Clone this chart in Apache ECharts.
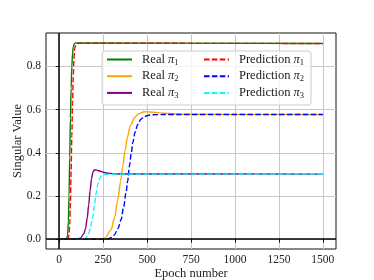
<!DOCTYPE html>
<html>
<head>
<meta charset="utf-8">
<script src="https://cdn.jsdelivr.net/npm/echarts@6/dist/echarts.min.js"></script>
<style>html,body{margin:0;padding:0;background:#fff}#c{width:374px;height:280px}</style>
</head>
<body>
<div id="c"></div>
<script>
// ---- data ----
const xTicks = [0, 250, 500, 750, 1000, 1250, 1500];
const yTicks = [0, 0.2, 0.4, 0.6, 0.8];

const real1X = [0, 42, 48, 52, 56, 60, 64, 68, 72, 76, 80, 86, 95, 120, 1500];
const real1Y = [0, 0, 0.02, 0.08, 0.2, 0.38, 0.56, 0.7, 0.8, 0.86, 0.89, 0.905, 0.909, 0.908, 0.906];

const real2X = [0, 220, 260, 295, 315, 333, 350, 361, 375, 389, 405, 427, 450, 484, 520, 600, 700, 1500];
const real2Y = [0, 0, 0.005, 0.043, 0.1, 0.182, 0.27, 0.336, 0.41, 0.476, 0.525, 0.561, 0.58, 0.59, 0.589, 0.583, 0.578, 0.577];

const real3X = [0, 100, 120, 140, 150, 160, 168, 176, 184, 192, 200, 210, 225, 250, 280, 320, 1500];
const real3Y = [0, 0, 0.004, 0.025, 0.05, 0.1, 0.16, 0.225, 0.28, 0.31, 0.32, 0.321, 0.317, 0.31, 0.305, 0.302, 0.301];

const pred1X = [0, 50, 56, 60, 64, 68, 72, 76, 80, 84, 88, 94, 104, 130, 1500];
const pred1Y = [0, 0, 0.02, 0.07, 0.17, 0.32, 0.48, 0.63, 0.75, 0.83, 0.88, 0.9, 0.906, 0.907, 0.906];

const pred2X = [0, 270, 300, 314, 335, 352, 366, 380, 390, 399, 410, 418, 432, 446, 465, 484, 510, 531, 600, 1500];
const pred2Y = [0, 0, 0.008, 0.02, 0.05, 0.09, 0.145, 0.213, 0.27, 0.336, 0.395, 0.445, 0.495, 0.53, 0.555, 0.568, 0.574, 0.576, 0.577, 0.577];

const pred3X = [0, 130, 150, 165, 178, 190, 200, 210, 220, 230, 240, 255, 280, 1500];
const pred3Y = [0, 0, 0.005, 0.02, 0.05, 0.1, 0.155, 0.21, 0.255, 0.28, 0.293, 0.299, 0.301, 0.301];

const seriesNames = ['Real π1', 'Real π2', 'Real π3', 'Prediction π1', 'Prediction π2', 'Prediction π3'];
// ---------------------------------------

const FONT = 'Liberation Serif';
const zip = (xs, ys) => xs.map((x, i) => [x, ys[i]]);

function mkSeries(name, xs, ys, color, dashed) {
  return {
    name, type: 'line', data: zip(xs, ys), showSymbol: false, symbol: 'none',
    smooth: 0.3, smoothMonotone: 'x', animation: false,
    lineStyle: { color, width: 1.4, type: dashed ? [5.5, 2.4] : 'solid' },
    itemStyle: { color }
  };
}

const series = [
  mkSeries(seriesNames[0], real1X, real1Y, '#008000', false),
  mkSeries(seriesNames[1], real2X, real2Y, '#FFA500', false),
  mkSeries(seriesNames[2], real3X, real3Y, '#800080', false),
  mkSeries(seriesNames[3], pred1X, pred1Y, '#FF0000', true),
  mkSeries(seriesNames[4], pred2X, pred2Y, '#0000FF', true),
  mkSeries(seriesNames[5], pred3X, pred3Y, '#00FFFF', true)
];
series[0].markLine = {
  silent: true, symbol: 'none', animation: false, label: { show: false },
  lineStyle: { color: '#000', width: 1.5, type: 'solid' },
  data: [{ xAxis: 0 }, { yAxis: 0 }]
};

const legendText = {
  fontFamily: FONT, fontSize: 12.5, color: '#222', padding: [0, 0, 0, 5],
  rich: {
    pi: { fontFamily: FONT, fontSize: 12.5, fontStyle: 'italic', color: '#222' },
    sub: { fontFamily: FONT, fontSize: 8.5, color: '#222', padding: [6, 0, 0, 0] }
  }
};
const fmt = n => n.replace(/π(\d)/, '{pi|π}{sub|$1}');
const legendCommon = {
  orient: 'vertical', itemWidth: 25, itemHeight: 14, itemGap: 2.7, padding: 0,
  textStyle: legendText, formatter: fmt, selectedMode: false,
  itemStyle: { opacity: 0 }
};

const chart = echarts.init(document.getElementById('c'), null, { renderer: 'canvas' });
chart.setOption({
  animation: false,
  backgroundColor: '#fff',
  grid: { left: 46, right: 38, top: 33, bottom: 31, show: true, borderColor: '#111', borderWidth: 1,
          backgroundColor: 'transparent', outerBoundsMode: 'none', containLabel: false },
  graphic: [{
    type: 'rect', z: 3, shape: { x: 102, y: 51, width: 209, height: 54, r: 3 },
    style: { fill: 'rgba(255,255,255,0.8)', stroke: '#cccccc', lineWidth: 1 }
  }],
  legend: [
    Object.assign({ left: 106, top: 53, data: seriesNames.slice(0, 3) }, legendCommon),
    Object.assign({ left: 203, top: 53, data: seriesNames.slice(3, 6) }, legendCommon)
  ],
  xAxis: {
    type: 'value', min: -75, max: 1575,
    name: 'Epoch number', nameLocation: 'middle', nameGap: 18, nameMoveOverlap: false,
    nameTextStyle: { fontFamily: FONT, fontSize: 12.5, color: '#222' },
    axisLine: { show: false },
    axisTick: { show: true, inside: false, length: 3.5, customValues: xTicks, lineStyle: { color: '#111', width: 1 } },
    axisLabel: { customValues: xTicks, margin: 5, fontFamily: FONT, fontSize: 11.5, color: '#222', formatter: v => String(v) },
    splitLine: { show: true, lineStyle: { color: '#c8c8c8', width: 1 } }
  },
  yAxis: {
    type: 'value', min: -0.0455, max: 0.9545,
    name: 'Singular Value', nameLocation: 'middle', nameGap: 22, nameMoveOverlap: false,
    nameTextStyle: { fontFamily: FONT, fontSize: 12.5, color: '#222' },
    axisLine: { show: false },
    axisTick: { show: true, inside: false, length: 3.5, customValues: yTicks, lineStyle: { color: '#111', width: 1 } },
    axisLabel: { customValues: yTicks, margin: 5, fontFamily: FONT, fontSize: 11.5, color: '#222', formatter: v => v.toFixed(1) },
    splitLine: { show: true, lineStyle: { color: '#c8c8c8', width: 1 } }
  },
  series
});
</script>
</body>
</html>
